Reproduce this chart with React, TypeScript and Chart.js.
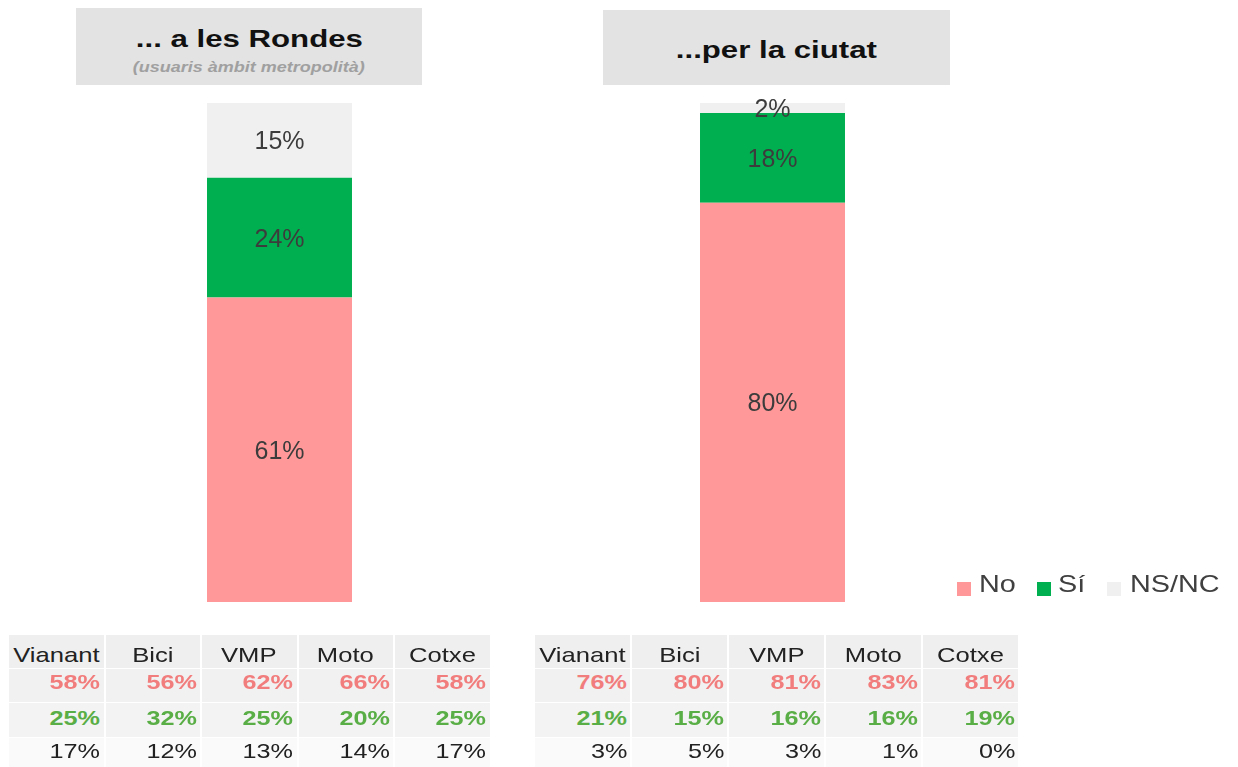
import React, { useEffect, useRef } from "react";
import { Chart, registerables } from "chart.js";

Chart.register(...registerables);

const categories = ["... a les Rondes", "...per la ciutat"];
const subtitles = ["(usuaris àmbit metropolità)", ""];
const seriesNames = ["No", "Sí", "NS/NC"];
const seriesColors = ["#FF9999", "#00B050", "#F0F0F0"];
const noValues = [61, 80];
const siValues = [24, 18];
const nsValues = [15, 2];

const modes = ["Vianant", "Bici", "VMP", "Moto", "Cotxe"];
const rondesNo = [58, 56, 62, 66, 58];
const rondesSi = [25, 32, 25, 20, 25];
const rondesNs = [17, 12, 13, 14, 17];
const ciutatNo = [76, 80, 81, 83, 81];
const ciutatSi = [21, 15, 16, 16, 19];
const ciutatNs = [3, 5, 3, 1, 0];

const FONT = '"Liberation Sans", Arial, sans-serif';

const labelPlugin = {
  id: "segLabels",
  afterDatasetsDraw(chart: any) {
    const ctx = chart.ctx;
    chart.data.datasets.forEach((ds: any, i: number) => {
      const meta = chart.getDatasetMeta(i);
      meta.data.forEach((el: any, j: number) => {
        const v = ds.data[j];
        const p = el.getProps(["x", "y", "base"], true);
        ctx.save();
        ctx.font = "25px " + FONT;
        ctx.fillStyle = "#3c3c3c";
        ctx.textAlign = "center";
        ctx.textBaseline = "middle";
        ctx.fillText(v + "%", p.x, (p.y + p.base) / 2 + 2);
        ctx.restore();
      });
    });
  },
};

function DataTable({ left, colW, rows }: { left: number; colW: number; rows: { vals: number[]; color: string; bold: boolean }[] }) {
  const rowTops = [635, 669, 703, 738];
  const rowHeights = [33, 33, 34, 29];
  const textTops = [644, 671, 707, 740];
  const bgs = ["#EFEFEF", "#F1F1F1", "#F3F3F3", "#FAFAFA"];
  const cells: React.ReactNode[] = [];
  for (let r = 0; r < 4; r++) {
    for (let c = 0; c < 5; c++) {
      const x = left + c * colW;
      cells.push(
        <div
          key={"bg" + r + "-" + c}
          style={{
            position: "absolute",
            left: x + 1,
            top: rowTops[r],
            width: colW - 2,
            height: rowHeights[r],
            background: bgs[r],
          }}
        />
      );
      if (r === 0) {
        cells.push(
          <div
            key={"t" + r + "-" + c}
            style={{
              position: "absolute",
              left: x,
              top: textTops[r],
              width: colW,
              height: 21,
              lineHeight: "21px",
              fontSize: 21,
              fontFamily: FONT,
              color: "#222",
              textAlign: "center",
              whiteSpace: "nowrap",
            }}
          >
            <span style={{ display: "inline-block", transform: "scaleX(1.22)", transformOrigin: "center" }}>{modes[c]}</span>
          </div>
        );
      } else {
        const row = rows[r - 1];
        cells.push(
          <div
            key={"t" + r + "-" + c}
            style={{
              position: "absolute",
              left: x,
              top: textTops[r],
              width: colW - 4,
              height: 21,
              lineHeight: "21px",
              fontSize: 21,
              fontFamily: FONT,
              fontWeight: row.bold ? "bold" : "normal",
              color: row.color,
              textAlign: "right",
              whiteSpace: "nowrap",
            }}
          >
            <span style={{ display: "inline-block", transform: "scaleX(1.2)", transformOrigin: "right" }}>{row.vals[c] + "%"}</span>
          </div>
        );
      }
    }
  }
  return <>{cells}</>;
}

export default function App() {
  const canvasRef = useRef<HTMLCanvasElement | null>(null);

  useEffect(() => {
    const canvas = canvasRef.current;
    if (!canvas) return;
    const values = [noValues, siValues, nsValues];
    const chart = new Chart(canvas, {
      type: "bar",
      data: {
        labels: categories,
        datasets: seriesNames.map((name, i) => ({
          label: name,
          data: values[i],
          backgroundColor: seriesColors[i],
          borderWidth: 0,
          barPercentage: 1,
          categoryPercentage: 0.2941,
        })),
      },
      options: {
        responsive: false,
        animation: false,
        devicePixelRatio: 1,
        layout: { padding: { left: 33, right: 219, top: 103, bottom: 165 } },
        scales: {
          x: { stacked: true, display: false },
          y: { stacked: true, display: false, min: 0, max: 100 },
        },
        plugins: {
          legend: { display: false },
          tooltip: { enabled: false },
          title: { display: false },
        },
      },
      plugins: [labelPlugin],
    });
    return () => chart.destroy();
  }, []);

  const titleBoxes = [
    { left: 76, top: 8, width: 346, height: 77, titleTop: 27 },
    { left: 603, top: 10, width: 347, height: 75, titleTop: 38 },
  ];

  const legendItems = [
    { sq: 957, tx: 979 },
    { sq: 1037, tx: 1058 },
    { sq: 1107, tx: 1130 },
  ];

  return (
    <div style={{ position: "fixed", left: 0, top: 0, width: 1238, height: 767, background: "#fff", overflow: "hidden" }}>
      {titleBoxes.map((b, i) => (
        <div key={"box" + i}>
          <div style={{ position: "absolute", left: b.left, top: b.top, width: b.width, height: b.height, background: "#E3E3E3" }} />
          <div
            style={{
              position: "absolute",
              left: b.left,
              top: b.titleTop,
              width: b.width,
              height: 24,
              lineHeight: "24px",
              fontSize: 24,
              fontWeight: "bold",
              fontFamily: FONT,
              color: "#111",
              textAlign: "center",
              whiteSpace: "nowrap",
            }}
          >
            <span style={{ display: "inline-block", transform: "scaleX(1.3)" }}>{categories[i]}</span>
          </div>
          {subtitles[i] ? (
            <div
              style={{
                position: "absolute",
                left: b.left,
                top: 59,
                width: b.width,
                height: 15,
                lineHeight: "15px",
                fontSize: 15,
                fontWeight: "bold",
                fontStyle: "italic",
                fontFamily: FONT,
                color: "#A0A0A0",
                textAlign: "center",
                whiteSpace: "nowrap",
              }}
            >
              <span style={{ display: "inline-block", transform: "scaleX(1.2)" }}>{subtitles[i]}</span>
            </div>
          ) : null}
        </div>
      ))}
      <canvas
        ref={canvasRef}
        width={1238}
        height={767}
        style={{ position: "absolute", left: 0, top: 0, width: 1238, height: 767 }}
      />
      {legendItems.map((it, i) => (
        <div key={"lg" + i}>
          <div style={{ position: "absolute", left: it.sq, top: 582, width: 14, height: 14, background: seriesColors[i] }} />
          <div
            style={{
              position: "absolute",
              left: it.tx,
              top: 572,
              height: 24,
              lineHeight: "24px",
              fontSize: 24,
              fontFamily: FONT,
              color: "#404040",
              whiteSpace: "nowrap",
            }}
          >
            <span style={{ display: "inline-block", transform: "scaleX(1.2)", transformOrigin: "left" }}>{seriesNames[i]}</span>
          </div>
        </div>
      ))}
      <DataTable
        left={8}
        colW={96.5}
        rows={[
          { vals: rondesNo, color: "#F27D7D", bold: true },
          { vals: rondesSi, color: "#5AAE46", bold: true },
          { vals: rondesNs, color: "#222", bold: false },
        ]}
      />
      <DataTable
        left={534}
        colW={97}
        rows={[
          { vals: ciutatNo, color: "#F27D7D", bold: true },
          { vals: ciutatSi, color: "#5AAE46", bold: true },
          { vals: ciutatNs, color: "#222", bold: false },
        ]}
      />
    </div>
  );
}
